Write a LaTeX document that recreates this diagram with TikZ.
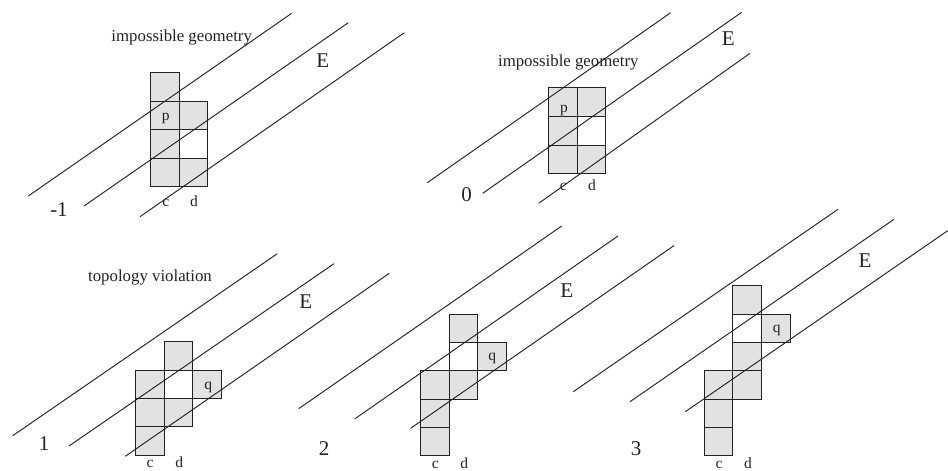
\documentclass[tikz,border=0pt]{standalone}
\usepackage{fontspec}
\setmainfont{Liberation Serif}
\definecolor{ink}{HTML}{222222}
\definecolor{cellgray}{HTML}{E2E2E2}
\tikzset{
  cellbox/.style={draw=ink,line width=0.9pt,fill=cellgray},
  emptybox/.style={draw=ink,line width=0.9pt,fill=white},
  band/.style={draw=ink,line width=0.95pt},
  capt/.style={inner sep=0pt,text=ink,font=\fontsize{16.8}{20}\selectfont},
  small/.style={inner sep=0pt,anchor=base,text=ink,font=\fontsize{15.5}{18}\selectfont},
  big/.style={inner sep=0pt,text=ink,font=\fontsize{21}{24}\selectfont}
}
\newcommand{\gcell}[4]{\path[cellbox] (#1,#3) rectangle (#2,#4);}
\newcommand{\wcell}[4]{\path[emptybox] (#1,#3) rectangle (#2,#4);}
\begin{document}
\begin{tikzpicture}[x=1pt,y=-1pt]
\useasboundingbox (0,0) rectangle (948,471);
% panel -1
\gcell{150.3}{179}{72.7}{101}
\gcell{150.3}{179}{101}{129.3}
\gcell{179}{207.3}{101}{129.3}
\gcell{150.3}{179}{129.3}{158.7}
\wcell{179}{207.3}{129.3}{158.7}
\gcell{150.3}{179}{158.7}{186.7}
\gcell{179}{207.3}{158.7}{186.7}
\coordinate (a1) at (28.3,196); \coordinate (a2) at (291.7,13.3);
\coordinate (a3) at (84,206); \coordinate (a4) at (348.3,22.7);
\coordinate (a5) at (140,216.7); \coordinate (a6) at (404.3,32.7);
\draw[band] (a1) -- (a2); \draw[band] (a3) -- (a4); \draw[band] (a5) -- (a6);
\node[small] (ap) at (165.7,120) {p};
\node[small] (ac) at (165.7,206.7) {c};
\node[small] (ad) at (194,206.7) {d};
\node[big] (an) at (59,210) {-1};
\node[big] (ae) at (322.7,61) {E};
\node[capt] (at) at (181.7,37) {impossible geometry};
% panel 0
\gcell{548.3}{577}{87.3}{116.3}
\gcell{577}{605.3}{87.3}{116.3}
\gcell{548.3}{577}{116.3}{145}
\wcell{577}{605.3}{116.3}{145}
\gcell{548.3}{577}{145}{173.7}
\gcell{577}{605.3}{145}{173.7}
\coordinate (b1) at (427.3,182.7); \coordinate (b2) at (670.7,12.7);
\coordinate (b3) at (482.7,193.3); \coordinate (b4) at (741.7,12.3);
\coordinate (b5) at (538.7,203.3); \coordinate (b6) at (750,53.3);
\draw[band] (b1) -- (b2); \draw[band] (b3) -- (b4); \draw[band] (b5) -- (b6);
\node[small] (bp) at (564,112.7) {p};
\node[small] (bc) at (563.3,190.7) {c};
\node[small] (bd) at (592,190.7) {d};
\node[big] (bn) at (466.7,195) {0};
\node[big] (be) at (728.3,39) {E};
\node[capt] (bt) at (568.3,62.7) {impossible geometry};
% panel 1
\gcell{164}{192.7}{341.7}{370}
\gcell{135.7}{164}{370}{398.7}
\wcell{164}{192.7}{370}{398.7}
\gcell{192.7}{221.3}{370}{398.7}
\gcell{135.7}{164}{398.7}{426.7}
\gcell{164}{192.7}{398.7}{426.7}
\gcell{135.7}{164}{426.7}{455}
\coordinate (c1) at (12.7,435.7); \coordinate (c2) at (277.3,253.7);
\coordinate (c3) at (69,446); \coordinate (c4) at (334,263.7);
\coordinate (c5) at (125.3,456.3); \coordinate (c6) at (389.3,273.3);
\draw[band] (c1) -- (c2); \draw[band] (c3) -- (c4); \draw[band] (c5) -- (c6);
\node[small] (cq) at (208.3,389) {q};
\node[small] (cc) at (150,467.5) {c};
\node[small] (cd) at (179.3,467.5) {d};
\node[big] (cn) at (44,444) {1};
\node[big] (ce) at (305.7,302) {E};
\node[capt] (ct) at (150,277.7) {topology violation};
% panel 2
\gcell{449.3}{477.7}{314}{342.3}
\wcell{449.3}{477.7}{342.3}{370.7}
\gcell{477.7}{506}{342.3}{370.7}
\gcell{420.7}{449.3}{370.7}{399}
\gcell{449.3}{477.7}{370.7}{399}
\gcell{420.7}{449.3}{399}{427.3}
\gcell{420.7}{449.3}{427.3}{455.7}
\coordinate (d1) at (298.7,408.7); \coordinate (d2) at (561.7,226);
\coordinate (d3) at (355,418.7); \coordinate (d4) at (618,236);
\coordinate (d5) at (410.7,428.3); \coordinate (d6) at (674,245.6);
\draw[band] (d1) -- (d2); \draw[band] (d3) -- (d4); \draw[band] (d5) -- (d6);
\node[small] (dq) at (492.3,360) {q};
\node[small] (dc) at (435.3,468) {c};
\node[small] (dd) at (464.3,468) {d};
\node[big] (dn) at (324,448.3) {2};
\node[big] (de) at (566.7,290.7) {E};
% panel 3
\gcell{732.7}{761.3}{285.7}{314}
\wcell{732.7}{761.3}{314}{342.3}
\gcell{761.3}{790}{314}{342.3}
\gcell{732.7}{761.3}{342.3}{370.7}
\gcell{704.3}{732.7}{370.7}{399}
\gcell{732.7}{761.3}{370.7}{399}
\gcell{704.3}{732.7}{399}{427.3}
\gcell{704.3}{732.7}{427.3}{455.7}
\coordinate (e1) at (573.3,391.7); \coordinate (e2) at (838,209.3);
\coordinate (e3) at (630,401.7); \coordinate (e4) at (894,219.3);
\coordinate (e5) at (685.3,411.7); \coordinate (e6) at (947.7,230.7);
\draw[band] (e1) -- (e2); \draw[band] (e3) -- (e4); \draw[band] (e5) -- (e6);
\node[small] (eq) at (776.7,332.3) {q};
\node[small] (ec) at (719,468) {c};
\node[small] (ed) at (748,468) {d};
\node[big] (en) at (636,448.3) {3};
\node[big] (ee) at (865,260.7) {E};
\end{tikzpicture}
\end{document}
